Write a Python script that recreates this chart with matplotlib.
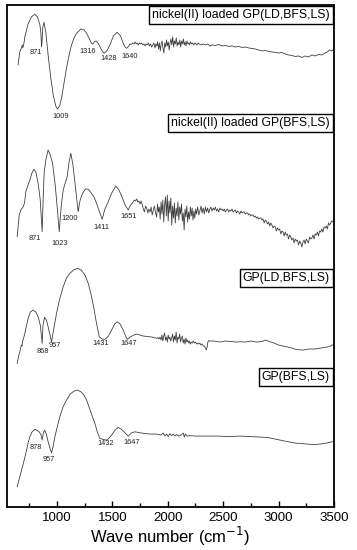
import matplotlib
matplotlib.use("Agg")
import matplotlib.pyplot as plt
from matplotlib.ticker import MultipleLocator

plt.rcParams["font.family"] = ["Liberation Sans", "DejaVu Sans"]

# FTIR spectra, wavenumber (cm-1) vs. relative transmittance (a.u.)
wn_ni_ld = [650, 666, 680, 688, 693, 705, 711, 740, 770, 801, 825, 847, 855, 862, 866, 872, 883, 900,
            921, 945, 967, 990, 1006, 1025, 1042, 1065, 1087, 1110, 1132, 1155, 1178, 1217, 1245, 1268,
            1290, 1313, 1325, 1340, 1352, 1370, 1390, 1403, 1427, 1450, 1478, 1510, 1544, 1575, 1598,
            1615, 1629, 1650, 1660, 1674, 1685, 1695, 1705, 1715, 1725, 1735, 1745, 1755, 1765, 1775,
            1785, 1795, 1805, 1815, 1825, 1835, 1845, 1855, 1865, 1875, 1885, 1893, 1901, 1909, 1917,
            1925, 1933, 1941, 1949, 1957, 1965, 1973, 1981, 1989, 1997, 2005, 2013, 2021, 2029, 2037,
            2045, 2053, 2061, 2069, 2077, 2085, 2093, 2101, 2109, 2117, 2125, 2133, 2141, 2149, 2157,
            2165, 2173, 2181, 2189, 2197, 2205, 2215, 2225, 2235, 2245, 2255, 2265, 2275, 2285, 2300,
            2320, 2340, 2360, 2380, 2400, 2430, 2460, 2490, 2520, 2550, 2580, 2610, 2640, 2670, 2700,
            2730, 2760, 2790, 2820, 2850, 2880, 2910, 2940, 2970, 3000, 3030, 3060, 3090, 3120, 3150,
            3180, 3210, 3240, 3270, 3300, 3330, 3360, 3390, 3420, 3440, 3460, 3480, 3500]
t_ni_ld = [-20, -6.7, -3, 0, -3, 3, 8.3, 21, 28, 30.7, 28, 20, 13, -1.7, 3, 17, 22.7, 13,
           -10, -33, -50, -61, -64, -61, -53, -38, -23, -10, 0, 7, 11.7, 16, 15, 11.7,
           7, 1.7, 1, 3.5, 4, 2, -2, -5, -8.3, -6, 0, 9, 12.7, 9, 1.7,
           -2, -3.3, -1, 1, 0.7, 2, 1, 3, 1, 2, 0, 2, 1, 2, 0,
           1, -1, 1, 0, 2, -1, 1, -2, 0, 2, -3, 1, -1, 3, -4,
           2, -6, 1, 4, -3, -8, 2, -2, 5, -1, 3, -5, 2, 6, 0,
           8, -2, 4, 1, 7, -1, 3, 0, 5, -2, 4, 1, 6, 0, 3,
           -1, 4, 1, 2, 0, 3, 1, 2, 0, 2, 1, 0, 2, 1, 0,
           1, 0, 1, -1, 0, -0.5, 0.5, -1, -0.5, -1.5, -1, -2, -1.5, -2.5, -2,
           -3, -3.5, -4, -5, -6, -5.5, -6.5, -7, -7.5, -8, -7.5, -9, -10, -10.5, -11.5,
           -11, -12.5, -11, -12, -10, -11, -9.5, -10, -8, -7, -5, -6, -4]

wn_ni = [642, 660, 675, 696, 708, 720, 740, 756, 775, 792, 810, 831, 850, 867, 876, 885, 900, 921,
         940, 961, 985, 1005, 1021, 1040, 1057, 1075, 1093, 1110, 1126, 1145, 1165, 1180, 1192, 1210,
         1232, 1258, 1283, 1310, 1335, 1358, 1385, 1409, 1430, 1463, 1495, 1532, 1560, 1580, 1598,
         1620, 1644, 1660, 1680,
         1700, 1710, 1720, 1730, 1740, 1750, 1760, 1770, 1780, 1790, 1800, 1810, 1820, 1830, 1840,
         1850, 1860, 1870, 1880, 1890, 1900, 1908, 1916, 1924, 1932, 1940, 1948, 1956, 1964, 1972,
         1980, 1988, 1996, 2004, 2012, 2020, 2028, 2036, 2044, 2052, 2060, 2068, 2076, 2084, 2092,
         2100, 2108, 2116, 2124, 2132, 2140, 2148, 2156, 2164, 2172, 2180, 2188, 2196, 2204, 2212,
         2220, 2228, 2236, 2244, 2252, 2260, 2270, 2280, 2290, 2300, 2310, 2320, 2330, 2340, 2350,
         2360, 2370, 2380, 2390, 2400, 2410, 2420, 2430, 2440, 2450, 2460, 2470, 2480, 2490, 2500,
         2510, 2520, 2530, 2540, 2550, 2560, 2570, 2580, 2590, 2600, 2610, 2620, 2630, 2640, 2650,
         2660, 2670, 2680, 2690, 2700, 2710, 2720, 2730, 2740, 2750, 2760, 2770, 2780, 2790, 2800,
         2810, 2820, 2830, 2840, 2850, 2860, 2870, 2880, 2890, 2900, 2910, 2920, 2930, 2940, 2950,
         2960, 2970, 2980, 2990, 3000, 3010, 3020, 3030, 3040, 3050, 3060, 3070, 3080, 3090, 3100,
         3110, 3120, 3130, 3140, 3150, 3160, 3170, 3180, 3190, 3200, 3210, 3220, 3230, 3240, 3250,
         3260, 3270, 3280, 3290, 3300, 3310, 3320, 3330, 3340, 3350, 3360, 3370, 3380, 3390, 3400,
         3410, 3420, 3430, 3440, 3450, 3460, 3470, 3480, 3490, 3500]
t_ni = [-26.7, -5, 0, 3.3, 7, 18.3, 25, 30, 37, 40.7, 38, 26.7, 10, -21.7, 10, 37, 50, 60,
        55, 46.7, 25, 0, -21.7, 5, 20, 27, 33.3, 48, 56.7, 45, 25, 10, -1.7, 10,
        16.7, 21, 20.7, 17, 13, 6.7, -2, -9.3, 0, 8.3, 17, 24, 20, 15, 10,
        4, 0, 4, 7,
        10, 9, 11, 8, 9, 6, 9, 5, 1, -2, 4, 2, -3, 1, -2,
        3, -5, 0, 4, -3, -7, 6, -2, 3, -9, 8, -4, 10, -12, 5,
        13, -6, 15, -11, 9, -3, 12, -15, 4, -8, 7, -13, 2, -6, 8,
        -10, 3, -4, 6, -11, -3, -20, 1, -7, 4, -12, -2, -9, 3, -6,
        2, -10, -1, -8, 1, -4, 3, -5, -1, 4, -3, 2, -4, 3, -2,
        2, -3, 1, 3, -1, 2, 0, 3, -1, 1, -2, 2, 0, 1, -1,
        1, -2, 0, 1, -2, 0, -1, 1, -2, -1, 0, -3, -1, -2, -4,
        -1, -3, -2, -2, -4, -3, -3, -5, -4, -6, -5, -5, -7, -6, -8,
        -7, -9, -8, -8, -10, -9, -13, -10, -11, -14, -12, -16, -13, -15, -18,
        -16, -17, -21, -18, -20, -19, -24, -21, -22, -26, -22, -25, -24, -29, -25,
        -27, -30, -28, -33, -29, -31, -30, -35, -31, -33, -37, -32, -30, -34, -29,
        -31, -33, -27, -29, -28, -25, -29, -24, -25, -22, -26, -21, -22, -19, -22,
        -17, -18, -16, -19, -13, -15, -13, -11, -12, -9]

wn_gp_ld = [642, 655, 666, 680, 686, 690, 700, 711, 725, 741, 760, 786, 810, 831, 850, 860, 867, 875,
            889, 905, 921, 940, 952, 970, 997, 1025, 1057, 1087, 1117, 1150, 1187, 1220, 1253, 1285,
            1313, 1335, 1352, 1382, 1410, 1433, 1465, 1494, 1520, 1544, 1570, 1598, 1620, 1635, 1660,
            1695, 1720, 1749, 1780, 1820, 1860, 1900, 1910, 1920, 1930, 1940, 1948, 1956, 1964, 1972,
            1980, 1988, 1996, 2004, 2012, 2020, 2028, 2036, 2044, 2052, 2060, 2068, 2076, 2084, 2092,
            2100, 2108, 2116, 2124, 2132, 2140, 2148, 2156, 2164, 2172, 2180, 2188, 2196, 2204, 2212,
            2220, 2230, 2240, 2250, 2260, 2270, 2280, 2290, 2300, 2310, 2320, 2330, 2340, 2348, 2355,
            2362, 2370, 2380, 2420, 2470, 2520, 2570, 2620, 2652, 2700, 2750, 2800, 2850, 2880, 2922,
            2960, 3000, 3040, 3080, 3120, 3160, 3220, 3270, 3320, 3380, 3437, 3470, 3482, 3500]
t_gp_ld = [-23.3, -16, -11.7, -5, -6, -1.7, 2, 6.7, 14, 21.7, 28, 30, 28, 23.3, 15, 5, -3.3, 15,
           22.7, 20, 13.3, 4, -1.7, 10, 26.7, 41, 53.3, 62, 66.7, 70, 71.7, 70, 65, 56,
           43.3, 31, 20, 3.3, 1, 0.7, 4, 10, 16, 18.3, 16, 10, 4, 0.7, 3,
           5, 6, 5, 4, 3.5, 3, 1.7, 2.5, 1, 3, 0, 5, -1, 4, 7,
           0, 3, -2, 5, 1, 3, -1, 2, 6, -2, 4, 0, 8, -3, 3,
           1, 6, -2, 2, 4, -3, 1, -4, 2, -2, 0, -3, -1, -4, -2,
           -3, -1, -3, -2, -4, -3, -4, -3, -5, -4, -6, -6, -8, -10, -7,
           -2, -0.5, -1, -1, -2, -1, -1.5, -2, -1.7, -2, -1, -2, -1.5, 0, -1.7,
           -3, -5, -6, -7, -8, -9.5, -10, -9, -9, -8, -7, -6, -5, -5]

wn_gp = [642, 660, 675, 685, 690, 705, 720, 740, 756, 775, 801, 820, 840, 858, 867, 878, 889, 905,
         921, 940, 952, 965, 982, 1005, 1027, 1055, 1087, 1120, 1155, 1187, 1220, 1245, 1268, 1300,
         1325, 1343, 1365, 1388, 1420, 1448, 1470, 1494, 1525, 1553, 1580, 1605, 1625, 1644, 1670,
         1704, 1749, 1800, 1850, 1900, 1940, 1960, 1975, 1990, 2005, 2020, 2035, 2050, 2065, 2080,
         2100, 2120, 2140, 2150, 2160, 2175, 2200, 2250, 2300, 2351, 2450, 2550, 2652, 2750, 2830,
         2893, 2950, 3013, 3080, 3150, 3193, 3260, 3320, 3374, 3430, 3482, 3500]
t_gp = [-50.7, -43, -37, -32, -30.7, -24, -17.3, -7, -0.7, 4, 6.7, 6, 4.3, 1, -4, 3, 6, 2,
        -5.7, -13, -16.7, -11, -0.7, 10, 19.3, 29, 36, 42, 45, 46, 44, 41, 36, 26,
        18, 12.7, 4, -2.3, -3.5, -4, -2, 1, 6, 8.7, 7, 4.3, 2, 0, 3,
        4.3, 3.3, 2.5, 2, 2, 1, 3, 0, 2, -0.5, 2.5, 0.5, 2, 0, 1.5,
        0, 1, 3, -1, 2, 0, 0.5, 0, 0, 0, 0, -0.5, 0, -0.5, -1,
        -1.3, -2.5, -4, -5.5, -7, -7.3, -8, -8.5, -8, -7, -5.7, -5]

names = ["nickel(II) loaded GP(LD,BFS,LS)", "nickel(II) loaded GP(BFS,LS)",
         "GP(LD,BFS,LS)", "GP(BFS,LS)"]

# peak labels: (text, wavenumber position, height) per spectrum
peaks_ni_ld = [("871", 810, 454), ("1009", 1036, 390), ("1316", 1274, 455),
               ("1428", 1469, 448), ("1640", 1659, 450)]
peaks_ni = [("871", 801, 269), ("1023", 1027, 264), ("1200", 1117, 289),
            ("1411", 1403, 280), ("1651", 1644, 291)]
peaks_gp_ld = [("868", 876, 156), ("957", 982, 162), ("1431", 1397, 164), ("1647", 1644, 164)]
peaks_gp = [("878", 810, 60), ("957", 930, 48), ("1432", 1442, 64), ("1647", 1674, 65)]

offsets = [462, 297, 167, 71]
name_heights = [492, 384, 229, 130]

fig = plt.figure(figsize=(3.57, 5.5), dpi=100)
ax = fig.add_axes([0.0196, 0.078, 0.916, 0.913])

spectra = [(wn_ni_ld, t_ni_ld), (wn_ni, t_ni), (wn_gp_ld, t_gp_ld), (wn_gp, t_gp)]
for (wn, t), off in zip(spectra, offsets):
    ax.plot(wn, [v + off for v in t], color="#404040", lw=0.6)

for peaks in [peaks_ni_ld, peaks_ni, peaks_gp_ld, peaks_gp]:
    for label, x, y in peaks:
        ax.text(x, y, label, fontsize=5.3, ha="center", va="center", color="#222222")

for name, y in zip(names, name_heights):
    ax.text(3462, y, name, fontsize=8.8, ha="right", va="center",
            bbox=dict(boxstyle="square,pad=0.25", fc="white", ec="black", lw=1.0))

ax.set_xlim(550, 3500)
ax.set_ylim(0, 502)
ax.set_yticks([])
ax.xaxis.set_major_locator(MultipleLocator(500))
ax.xaxis.set_minor_locator(MultipleLocator(250))
ax.tick_params(axis="x", which="both", direction="in", labelsize=9.5, width=1.0)
ax.tick_params(axis="x", which="major", length=4)
ax.tick_params(axis="x", which="minor", length=3)
for s in ax.spines.values():
    s.set_linewidth(1.3)
ax.set_xlabel("Wave number (cm$^{-1}$)", fontsize=12, labelpad=1)

fig.savefig("out.png", dpi=100)
